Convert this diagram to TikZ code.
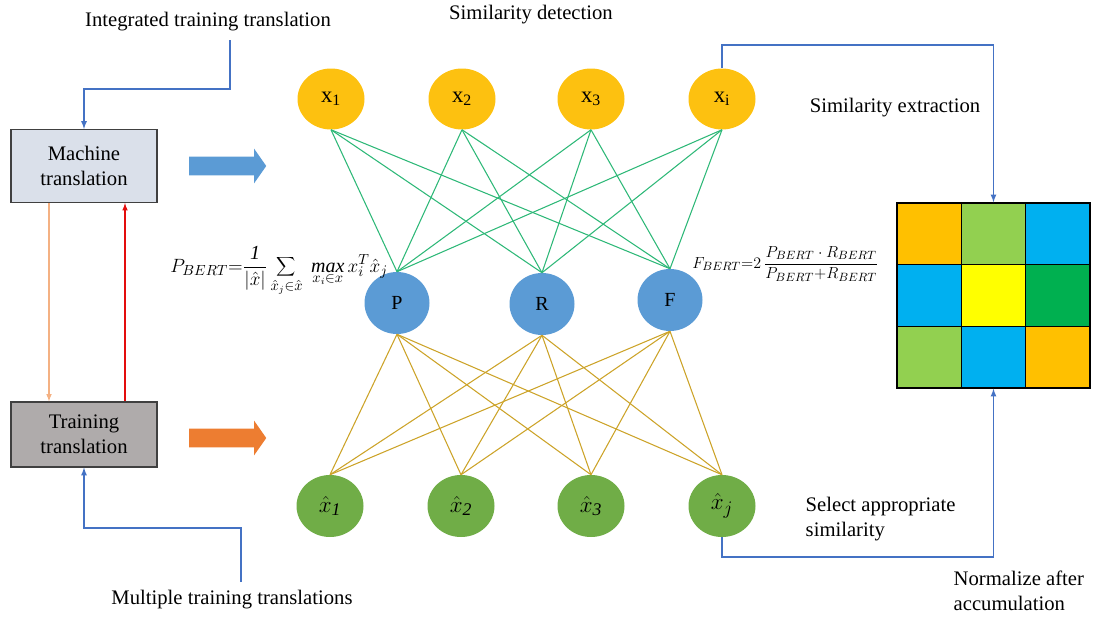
\documentclass[tikz,border=0pt]{standalone}
\usepackage{fontspec}
\setmainfont{Liberation Serif}
\usetikzlibrary{shapes.geometric,shapes.arrows}

\newlength{\du}
\setlength{\du}{0.75pt}

\definecolor{mtfill}{rgb}{0.855, 0.878, 0.918}
\definecolor{ttfill}{rgb}{0.686, 0.671, 0.671}
\definecolor{boxline}{rgb}{0.250, 0.250, 0.250}
\definecolor{topgold}{rgb}{0.992, 0.757, 0.063}
\definecolor{midblue}{rgb}{0.357, 0.608, 0.835}
\definecolor{lowgreen}{rgb}{0.439, 0.678, 0.278}
\definecolor{greenwire}{rgb}{0.180, 0.720, 0.470}
\definecolor{goldwire}{rgb}{0.800, 0.640, 0.160}
\definecolor{bluewirecolor}{rgb}{0.267, 0.447, 0.769}
\definecolor{paleorange}{rgb}{0.957, 0.694, 0.514}
\definecolor{redwire}{rgb}{0.890, 0.050, 0.050}
\definecolor{bigorange}{rgb}{0.929, 0.490, 0.192}
\definecolor{cellgold}{rgb}{1.000, 0.753, 0.000}
\definecolor{celllime}{rgb}{0.573, 0.816, 0.314}
\definecolor{cellcyan}{rgb}{0.000, 0.690, 0.941}
\definecolor{cellyellow}{rgb}{1.000, 1.000, 0.000}
\definecolor{cellgreen}{rgb}{0.000, 0.690, 0.314}

\tikzset{
  label text/.style={font=\fontsize{15.5}{18.5}\selectfont},
  transbox/.style={rectangle, draw=boxline, line width=0.9pt, minimum width=146\du, align=center, font=\fontsize{15.5}{18.5}\selectfont},
  topball/.style={ellipse, fill=topgold, minimum width=67\du, minimum height=61\du, inner sep=0pt, font=\fontsize{17}{17}\selectfont},
  midball/.style={ellipse, fill=midblue, minimum width=65\du, minimum height=62\du, inner sep=0pt, font=\fontsize{15}{15}\selectfont},
  lowball/.style={ellipse, fill=lowgreen, minimum width=67\du, minimum height=62\du, inner sep=0pt, font=\fontsize{19}{19}\selectfont},
  greenlink/.style={draw=greenwire, line width=0.8pt},
  goldlink/.style={draw=goldwire, line width=0.8pt},
  bluewire/.style={draw=bluewirecolor, line width=1pt, -latex},
  cell/.style={rectangle, draw=black, line width=1pt, minimum width=64.3\du, minimum height=61.7\du, inner sep=0pt},
  fatarrow/.style={single arrow, minimum height=77\du, inner xsep=0pt, inner ysep=9\du, single arrow head extend=8\du, single arrow tip angle=110},
  formula/.style={inner sep=0pt}
}

\begin{document}
\begin{tikzpicture}
\pgftransformxscale{1.000000}
\pgftransformyscale{-1.000000}
\useasboundingbox (0\du,0\du) rectangle (1093\du,618\du);

% translation boxes
\node[transbox, fill=mtfill, minimum height=73\du] (MT) at (84\du,166\du) {Machine\\translation};
\node[transbox, fill=ttfill, minimum height=65\du] (TT) at (84\du,434.5\du) {Training\\translation};
\draw[draw=paleorange, line width=0.9pt, -latex] ([xshift=-35\du]MT.south) -- ([xshift=-35\du]TT.north);
\draw[draw=redwire, line width=0.9pt, -latex] ([xshift=41\du]TT.north) -- ([xshift=41\du]MT.south);

\node[label text] (itt) at (208\du,22\du) {Integrated training translation};
\coordinate (ittfoot) at (230\du,40\du);
\draw[bluewire] (ittfoot) -- (230\du,89\du) -| (MT.north);

\node[label text] (mtt) at (232\du,600\du) {Multiple training translations};
\coordinate (mttfoot) at (241\du,582\du);
\draw[bluewire] (mttfoot) -- (241\du,528\du) -| (TT.south);

\node[fatarrow, fill=midblue] (bluearrow) at (224.5\du,166\du) {};
\node[fatarrow, fill=bigorange] (orangearrow) at (224.5\du,438\du) {};

% network
\node[label text] (detect) at (531\du,15\du) {Similarity detection};
\node[topball] (x1) at (331\du,99\du) {x\textsubscript{1}};
\node[topball] (x2) at (462\du,99\du) {x\textsubscript{2}};
\node[topball] (x3) at (591\du,99\du) {x\textsubscript{3}};
\node[topball] (xi) at (722\du,99\du) {x\textsubscript{i}};

\node[midball] (P) at (397\du,303\du) {P};
\node[midball] (R) at (542\du,304\du) {R};
\node[midball] (F) at (670\du,300\du) {F};

\node[lowball] (xh1) at (330\du,506\du) {$\hat{x}_{\mathit{1}}$};
\node[lowball] (xh2) at (461\du,506\du) {$\hat{x}_{\mathit{2}}$};
\node[lowball] (xh3) at (591\du,506\du) {$\hat{x}_{\mathit{3}}$};
\node[lowball] (xhj) at (722\du,506\du) {$\hat{x}_{j}$};

\draw[greenlink] (x1.south) -- (P.north);
\draw[greenlink] (x1.south) -- (R.north);
\draw[greenlink] (x1.south) -- (F.north);
\draw[greenlink] (x2.south) -- (P.north);
\draw[greenlink] (x2.south) -- (R.north);
\draw[greenlink] (x2.south) -- (F.north);
\draw[greenlink] (x3.south) -- (P.north);
\draw[greenlink] (x3.south) -- (R.north);
\draw[greenlink] (x3.south) -- (F.north);
\draw[greenlink] (xi.south) -- (P.north);
\draw[greenlink] (xi.south) -- (R.north);
\draw[greenlink] (xi.south) -- (F.north);

\draw[goldlink] (P.south) -- (xh1.north);
\draw[goldlink] (P.south) -- (xh2.north);
\draw[goldlink] (P.south) -- (xh3.north);
\draw[goldlink] (P.south) -- (xhj.north);
\draw[goldlink] (R.south) -- (xh1.north);
\draw[goldlink] (R.south) -- (xh2.north);
\draw[goldlink] (R.south) -- (xh3.north);
\draw[goldlink] (R.south) -- (xhj.north);
\draw[goldlink] (F.south) -- (xh1.north);
\draw[goldlink] (F.south) -- (xh2.north);
\draw[goldlink] (F.south) -- (xh3.north);
\draw[goldlink] (F.south) -- (xhj.north);

\node[formula, anchor=base west, font=\fontsize{15}{17}\selectfont] (pbert) at (170\du,272\du)
  {$\displaystyle P_{BERT}{=}\frac{\mathit{1}}{|\hat{x}|}\sum_{\hat{x}_j\in\hat{x}}\;\mathop{\mathit{max}}\limits_{x_i\in x} x_i^T\hat{x}_j$};
\node[formula, anchor=base west, font=\fontsize{12.8}{15}\selectfont] (fbert) at (692\du,268\du)
  {$\displaystyle F_{BERT}{=}2\,\frac{P_{BERT}\cdot R_{BERT}}{P_{BERT}{+}R_{BERT}}$};

% similarity matrix
\node[cell, fill=cellgold] (c11) at (929.2\du,233.8\du) {};
\node[cell, fill=celllime] (c12) at (993.5\du,233.8\du) {};
\node[cell, fill=cellcyan] (c13) at (1057.8\du,233.8\du) {};
\node[cell, fill=cellcyan] (c21) at (929.2\du,295.5\du) {};
\node[cell, fill=cellyellow] (c22) at (993.5\du,295.5\du) {};
\node[cell, fill=cellgreen] (c23) at (1057.8\du,295.5\du) {};
\node[cell, fill=celllime] (c31) at (929.2\du,357.2\du) {};
\node[cell, fill=cellcyan] (c32) at (993.5\du,357.2\du) {};
\node[cell, fill=cellgold] (c33) at (1057.8\du,357.2\du) {};

\node[label text] (extract) at (895\du,108\du) {Similarity extraction};
\draw[bluewire] (xi.north) -- (722\du,45\du) -| (c12.north);

\node[label text, anchor=west, align=left] (select) at (801\du,519\du) {Select appropriate\\similarity};
\node[label text, anchor=west, align=left] (normal) at (949\du,591\du) {Normalize after\\accumulation};
\draw[bluewire] (xhj.south) -- (722\du,557\du) -| (c32.south);
\end{tikzpicture}
\end{document}
